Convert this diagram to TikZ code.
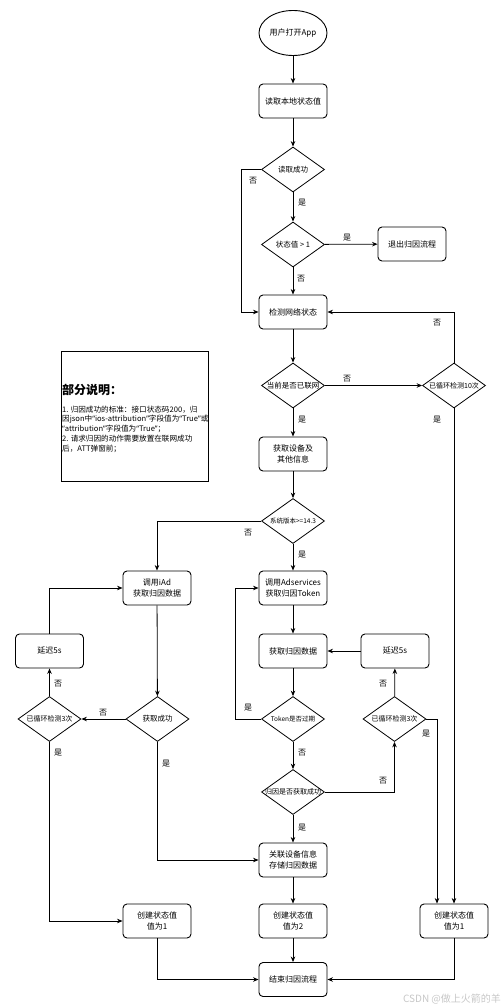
\documentclass[tikz,border=0pt]{standalone}
\usepackage{fontspec}
\setmainfont{Noto Sans CJK SC}
\newfontfamily\quotefont{Noto Sans}
\newcommand{\lqq}{{\quotefont “}}
\newcommand{\rqq}{{\quotefont ”}}
\usetikzlibrary{shapes.geometric,arrows.meta}
\begin{document}
\begin{tikzpicture}[x=1pt,y=-1pt,
  every node/.style={inner sep=0pt},
  proc/.style={draw, rounded corners=4pt, minimum width=68pt, minimum height=34pt, align=center, font=\fontsize{8}{10.5}\selectfont, line width=0.9pt},
  term/.style={draw, ellipse, minimum width=68pt, minimum height=45pt, font=\fontsize{8}{10}\selectfont, line width=0.9pt},
  dec/.style={draw, diamond, minimum width=63pt, minimum height=45pt, line width=0.8pt},
  dlab/.style={font=\fontsize{7.5}{9}\selectfont},
  mlab/.style={font=\fontsize{7}{9}\selectfont},
  slab/.style={font=\fontsize{6.5}{8}\selectfont},
  elab/.style={font=\fontsize{8}{9}\selectfont},
  conn/.style={-{Stealth[length=5.5pt,width=4.5pt]}, line width=0.8pt},
  plain/.style={line width=0.8pt}
]
\useasboundingbox (0,0) rectangle (500,1008);

% main column
\node[term] (start) at (293,33) {用户打开App};
\node[proc] (read) at (293,101) {读取本地状态值};
\node[dec, label={[dlab]center:读取成功}] (d1) at (293,169.5) {};
\node[dec, label={[dlab]center:状态值 > 1}] (d2) at (293,244.5) {};
\node[proc] (exit) at (412,244) {退出归因流程};
\node[proc] (net) at (293,312) {检测网络状态};
\node[dec, label={[dlab]center:当前是否已联网}] (d3) at (293,385.5) {};
\node[dec, label={[mlab]center:已循环检测10次}] (d4) at (454,385.5) {};
\node[proc] (dev) at (293,454) {获取设备及\\其他信息};
\node[dec, label={[slab]center:系统版本>=14.3}] (d5) at (293,521) {};
\node[proc] (ads) at (293,588) {调用Adservices\\获取归因Token};
\node[proc] (fetch) at (293,651) {获取归因数据};
\node[proc] (delayR) at (395,651) {延迟5s};
\node[dec, label={[slab]center:Token是否过期}] (d8) at (293,719) {};
\node[dec, label={[mlab]center:已循环检测3次}] (d10) at (394.5,719) {};
\node[dec, label={[mlab]center:归因是否获取成功}] (d9) at (293,792) {};
\node[proc] (link) at (293,860) {关联设备信息\\存储归因数据};
\node[proc] (c2) at (293,921) {创建状态值\\值为2};
\node[proc] (c1R) at (454,921) {创建状态值\\值为1};
\node[proc] (end) at (293,979.5) {结束归因流程};

% left column
\node[proc] (iad) at (157,588) {调用iAd\\获取归因数据};
\node[proc] (delayL) at (49.5,651) {延迟5s};
\node[dec, label={[dlab]center:获取成功}] (d6) at (157.5,719) {};
\node[dec, label={[mlab]center:已循环检测3次}] (d7) at (49.5,719) {};
\node[proc] (c1L) at (157,921) {创建状态值\\值为1};

% note box
\node[draw, line width=1pt, minimum width=147pt, minimum height=130pt] (note) at (134.5,416) {};
\node[anchor=west, font=\bfseries\fontsize{12}{14}\selectfont] (notetitle) at (62,390) {部分说明：};
\node[anchor=north west, align=left, font=\fontsize{7.6}{9.8}\selectfont] (notebody) at (62,405.5) {1. 归因成功的标准：接口状态码200，归\\因json中\lqq ios-attribution\rqq 字段值为\lqq True\rqq 或\\\lqq attribution\rqq 字段值为\lqq True\rqq ；\\2. 请求归因的动作需要放置在联网成功\\后，ATT弹窗前；};

% connectors
\draw[conn] (start) -- (read);
\draw[conn] (read) -- (d1);
\draw[conn] (d1) -- (d2);
\draw[conn] (d1.west) -- ++(-20,0) |- (net.west);
\draw[conn] (d2) -- (exit);
\draw[conn] (d2) -- (net);
\draw[conn] (net) -- (d3);
\draw[conn] (d3) -- (d4);
\draw[conn] (d4.north) |- (net.east);
\draw[conn] (d4.south) -- (c1R.north);
\draw[conn] (d3) -- (dev);
\draw[conn] (dev) -- (d5);
\draw[conn] (d5.west) -| (iad.north);
\draw[conn] (d5) -- (ads);
\draw[conn] (iad) -- (d6);
\draw[conn] (d6) -- (d7);
\draw[conn] (d7) -- (delayL);
\draw[conn] (delayL.north) |- (iad.west);
\draw[conn] (d7.south) |- (c1L.west);
\draw[conn] (d6.south) |- (link.west);
\draw[conn] (c1L.south) |- (end.west);
\draw[conn] (ads) -- (fetch);
\draw[conn] (fetch) -- (d8);
\draw[conn] (d8.west) -- ++(-26,0) |- (ads.west);
\draw[conn] (d8) -- (d9);
\draw[conn] (delayR) -- (fetch);
\draw[conn] (d10) -- (delayR);
\draw[conn] (d10.east) -| ([xshift=-17pt]c1R.north);
\draw[conn] (d9.east) -| (d10.south);
\draw[conn] (d9) -- (link);
\draw[conn] (link) -- (c2);
\draw[conn] (c2) -- (end);
\draw[conn] (c1R.south) |- (end.east);

% edge labels
\node[elab] (l1) at (253,181) {否};
\node[elab] (l2) at (302,203) {是};
\node[elab] (l3) at (347,238) {是};
\node[elab] (l4) at (301,279) {否};
\node[elab] (l5) at (437,323) {否};
\node[elab] (l6) at (347,379) {否};
\node[elab] (l7) at (302,420) {是};
\node[elab] (l8) at (437,420) {是};
\node[elab] (l9) at (248,533) {否};
\node[elab] (l10) at (302,555) {是};
\node[elab] (l11) at (103,713) {否};
\node[elab] (l12) at (58,684) {否};
\node[elab] (l13) at (58,753) {是};
\node[elab] (l14) at (166,764) {是};
\node[elab] (l15) at (248,708) {是};
\node[elab] (l16) at (302,753) {否};
\node[elab] (l17) at (383,684) {否};
\node[elab] (l18) at (426,734) {是};
\node[elab] (l19) at (383,781) {否};
\node[elab] (l20) at (302,828) {是};

% watermark
\node[text=black!22, font=\fontsize{10}{12}\selectfont] (wm) at (452,999) {CSDN @做上火箭的羊};
\end{tikzpicture}
\end{document}
